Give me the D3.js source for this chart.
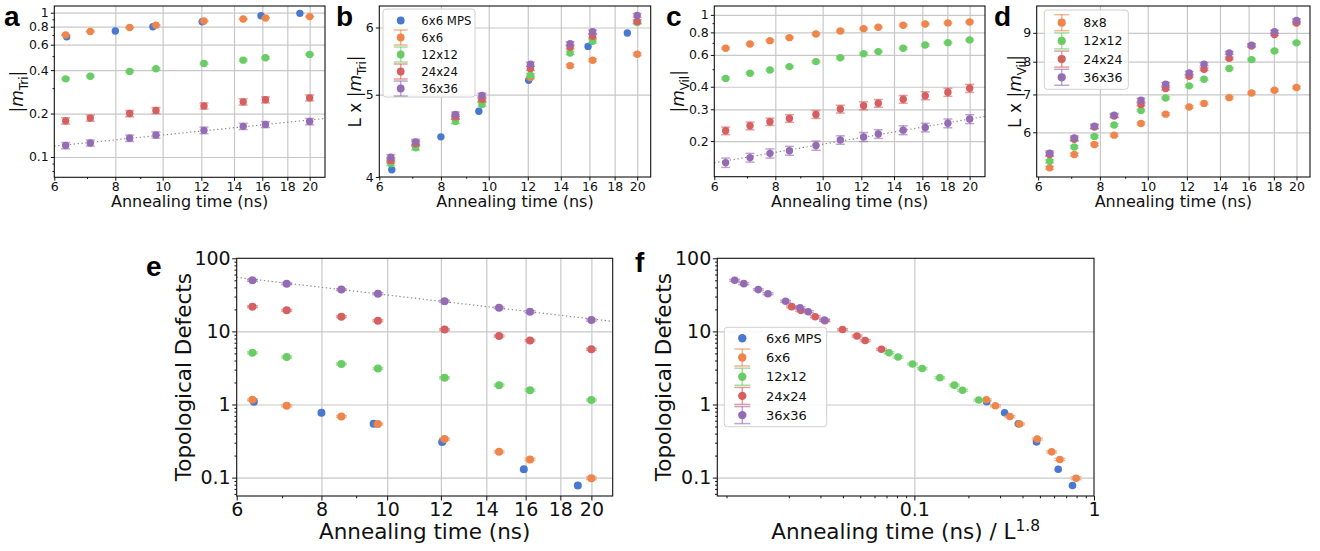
<!DOCTYPE html>
<html><head><meta charset="utf-8">
<script src="https://cdn.jsdelivr.net/npm/d3@7"></script>
<style>body{margin:0;background:#fff} svg{display:block}</style>
</head><body>
<svg id="chart" width="1320" height="551"></svg>
<script>
// ---------------- DATA ----------------
const seriesLabels = ["6x6 MPS", "6x6", "12x12", "24x24", "36x36"];
const seriesColors = ["#4878d0", "#ee854a", "#6acc64", "#d65f5f", "#956cb4"];
const latticeL = [6, 6, 12, 24, 36];
const vilLabels = ["8x8", "12x12", "24x24", "36x36"];
const vilColors = ["#ee854a", "#6acc64", "#d65f5f", "#956cb4"];
const scalingExponent = 1.8;

const timesMPS = [6.36, 8.0, 9.55, 12.05, 15.9, 19.1];
const timesTri = [6.33, 7.11, 8.56, 9.69, 12.15, 14.62, 16.24, 20];
const timesVil = [6.33, 7.1, 7.8, 8.55, 9.69, 10.87, 12.13, 13.0, 14.62, 16.22, 18.05, 20];

// panel a : |m_Tri|
const mTriMPS = [0.68, 0.746, 0.80, 0.866, 0.953, 0.99];
const mTri6  = [0.70, 0.74, 0.79, 0.82, 0.875, 0.905, 0.92, 0.94];
const mTri12 = [0.348, 0.363, 0.392, 0.409, 0.445, 0.469, 0.487, 0.514];
const mTri24 = [0.178, 0.186, 0.200, 0.210, 0.226, 0.241, 0.249, 0.257];
const mTri36 = [0.120, 0.125, 0.135, 0.142, 0.153, 0.163, 0.168, 0.176];
const mTri6Err  = [0.005, 0.005, 0.005, 0.005, 0.006, 0.006, 0.006, 0.006];
const mTri12Err = [0.005, 0.005, 0.006, 0.006, 0.006, 0.007, 0.007, 0.007];
const mTri24Err = [0.009, 0.009, 0.010, 0.010, 0.011, 0.012, 0.012, 0.012];
const mTri36Err = [0.006, 0.006, 0.007, 0.007, 0.008, 0.008, 0.008, 0.009];
const fitTri = [[6, 0.119], [21.5, 0.185]];

// panel b : L x |m_Tri|
const lmTriMPS = [4.08, 4.46, 4.78, 5.20, 5.70, 5.91];
const lmTri6  = [4.19, 4.38, 4.70, 4.92, 5.24, 5.41, 5.49, 5.58];
const lmTri12 = [4.15, 4.33, 4.65, 4.87, 5.27, 5.60, 5.78, 6.08];
const lmTri24 = [4.185, 4.38, 4.71, 4.94, 5.37, 5.69, 5.86, 6.10];
const lmTri36 = [4.22, 4.40, 4.74, 4.99, 5.43, 5.74, 5.93, 6.20];
const lmTri6Err  = [0.02, 0.02, 0.02, 0.02, 0.02, 0.02, 0.02, 0.02];
const lmTri12Err = [0.025, 0.025, 0.025, 0.025, 0.025, 0.025, 0.025, 0.025];
const lmTri24Err = [0.03, 0.03, 0.03, 0.03, 0.03, 0.03, 0.03, 0.03];
const lmTri36Err = [0.03, 0.03, 0.03, 0.03, 0.03, 0.03, 0.03, 0.03];

// panel c : |m_Vil|
const mVil8  = [0.653, 0.690, 0.720, 0.748, 0.784, 0.815, 0.839, 0.854, 0.877, 0.891, 0.903, 0.914];
const mVil12 = [0.445, 0.475, 0.495, 0.517, 0.551, 0.579, 0.610, 0.626, 0.653, 0.681, 0.702, 0.727];
const mVil24 = [0.228, 0.243, 0.256, 0.267, 0.281, 0.301, 0.314, 0.324, 0.341, 0.357, 0.373, 0.392];
const mVil36 = [0.152, 0.162, 0.171, 0.177, 0.189, 0.203, 0.211, 0.219, 0.230, 0.238, 0.251, 0.265];
const mVil8Err  = [0.008, 0.008, 0.008, 0.008, 0.009, 0.009, 0.009, 0.009, 0.010, 0.010, 0.010, 0.010];
const mVil12Err = [0.006, 0.006, 0.006, 0.006, 0.007, 0.007, 0.007, 0.007, 0.008, 0.008, 0.008, 0.008];
const mVil24Err = [0.011, 0.012, 0.012, 0.013, 0.014, 0.015, 0.016, 0.016, 0.017, 0.018, 0.019, 0.020];
const mVil36Err = [0.009, 0.009, 0.010, 0.010, 0.011, 0.011, 0.012, 0.012, 0.013, 0.013, 0.014, 0.015];
const fitVil = [[6, 0.1516], [21.5, 0.274]];

// panel d : L x |m_Vil|
const lmVil8  = [5.19, 5.48, 5.71, 5.93, 6.22, 6.46, 6.65, 6.75, 6.91, 7.04, 7.12, 7.20];
const lmVil12 = [5.33, 5.65, 5.90, 6.18, 6.56, 6.90, 7.25, 7.45, 7.78, 8.07, 8.36, 8.64];
const lmVil24 = [5.48, 5.83, 6.13, 6.41, 6.72, 7.17, 7.54, 7.76, 8.11, 8.53, 8.94, 9.37];
const lmVil36 = [5.51, 5.86, 6.15, 6.43, 6.84, 7.30, 7.64, 7.92, 8.29, 8.56, 9.04, 9.47];
const lmVil8Err  = [0.03, 0.03, 0.03, 0.03, 0.03, 0.03, 0.03, 0.03, 0.03, 0.03, 0.03, 0.03];
const lmVil12Err = [0.03, 0.03, 0.03, 0.03, 0.03, 0.03, 0.03, 0.03, 0.03, 0.03, 0.03, 0.03];
const lmVil24Err = [0.04, 0.04, 0.04, 0.04, 0.04, 0.04, 0.04, 0.04, 0.04, 0.04, 0.04, 0.04];
const lmVil36Err = [0.05, 0.05, 0.05, 0.05, 0.05, 0.05, 0.05, 0.05, 0.05, 0.05, 0.05, 0.05];

// panels e & f : topological defects
const defMPS = [1.09, 0.77, 0.544, 0.308, 0.130, 0.078];
const def6  = [1.16, 0.96, 0.685, 0.54, 0.336, 0.225, 0.177, 0.098];
const def12 = [5.1, 4.46, 3.58, 3.11, 2.32, 1.84, 1.57, 1.15];
const def24 = [21.8, 19.4, 15.9, 14.0, 10.6, 8.65, 7.5, 5.7];
const def36 = [50, 45, 37.3, 32.8, 25.8, 21.1, 18.6, 14.3];
const def6Err  = [0.035, 0.03, 0.02, 0.016, 0.01, 0.007, 0.006, 0.004];
const def12Err = [0.15, 0.13, 0.10, 0.09, 0.07, 0.055, 0.05, 0.035];
const def24Err = [0.6, 0.55, 0.45, 0.4, 0.3, 0.25, 0.22, 0.17];
const def36Err = [1.5, 1.4, 1.1, 1.0, 0.8, 0.6, 0.6, 0.45];
const fitDef = [[6, 54.9], [21.5, 13.7]];

// ticks
const xTicksTime = [6, 8, 10, 12, 14, 16, 18, 20];
const xMinorTime = [7, 9];
const yTicksA = [0.1, 0.2, 0.4, 0.6, 0.8, 1];
const yMinorA = [0.08, 0.09, 0.3, 0.5, 0.7, 0.9];
const yTicksB = [4, 5, 6];
const yTicksC = [0.2, 0.3, 0.4, 0.6, 0.8, 1];
const yMinorC = [0.5, 0.7, 0.9];
const yTicksD = [6, 7, 8, 9];
const yTicksE = [0.1, 1, 10, 100];
const yMinorE = [0.06, 0.07, 0.08, 0.09, 0.2, 0.3, 0.4, 0.5, 0.6, 0.7, 0.8, 0.9, 2, 3, 4, 5, 6, 7, 8, 9, 20, 30, 40, 50, 60, 70, 80, 90];
const xTicksF = [0.1, 1];
const xMinorF = [0.009, 0.02, 0.03, 0.04, 0.05, 0.06, 0.07, 0.08, 0.09, 0.2, 0.3, 0.4, 0.5, 0.6, 0.7, 0.8, 0.9];

// ---------------- DRAWING ----------------
const svg = d3.select("#chart");
const FONT = "DejaVu Sans, Verdana, sans-serif";
const GRID = "#c8c8c8";

function mk(xs, ys, errs, color) {
  return xs.map((t, i) => ({x: t, y: ys[i], e: errs ? errs[i] : 0, color, err: !!errs}));
}

function drawPanel(p) {
  const g = svg.append("g");
  const x = d3.scaleLog().domain(p.xDomain).range([p.left, p.right]);
  const y = d3.scaleLog().domain(p.yDomain).range([p.bottom, p.top]);
  const W = p.right - p.left, H = p.bottom - p.top;
  const inX = v => x(v) > p.left + 1.5 && x(v) < p.right - 1.5;
  const inY = v => y(v) > p.top + 1.5 && y(v) < p.bottom - 1.5;

  // grid
  g.append("g").attr("transform", `translate(0,${p.bottom})`)
    .call(d3.axisBottom(x).tickValues(p.xTicks.filter(inX)).tickSize(-H).tickFormat(""))
    .call(a => a.select(".domain").remove())
    .selectAll("line").attr("stroke", GRID).attr("stroke-width", 1.2);
  g.append("g").attr("transform", `translate(${p.left},0)`)
    .call(d3.axisLeft(y).tickValues(p.yTicks.filter(inY)).tickSize(-W).tickFormat(""))
    .call(a => a.select(".domain").remove())
    .selectAll("line").attr("stroke", GRID).attr("stroke-width", 1.2);

  // fit line
  if (p.fit) {
    g.append("path").datum(p.fit)
      .attr("d", d3.line().x(d => x(d[0])).y(d => y(d[1])))
      .attr("fill", "none").attr("stroke", "#8a8a8a").attr("stroke-width", 1.2)
      .attr("stroke-dasharray", "1.3,2.6");
  }

  const clip = "clip" + Math.round(p.left);
  svg.append("clipPath").attr("id", clip).append("rect")
    .attr("x", p.left).attr("y", p.top).attr("width", W).attr("height", H);
  const pts = g.append("g").attr("clip-path", `url(#${clip})`);

  p.series.forEach(s => {
    const sg = pts.append("g");
    const withErr = s.filter(d => d.err);
    sg.selectAll("line.v").data(withErr).join("line")
      .attr("x1", d => x(d.x)).attr("x2", d => x(d.x))
      .attr("y1", d => y(d.y - d.e)).attr("y2", d => y(d.y + d.e))
      .attr("stroke", d => d.color).attr("stroke-width", 1.5).attr("opacity", 0.6);
    ["lo", "hi"].forEach(k => {
      sg.selectAll("line." + k).data(withErr).join("line")
        .attr("x1", d => x(d.x) - p.cap).attr("x2", d => x(d.x) + p.cap)
        .attr("y1", d => y(k === "lo" ? d.y - d.e : d.y + d.e))
        .attr("y2", d => y(k === "lo" ? d.y - d.e : d.y + d.e))
        .attr("stroke", d => d.color).attr("stroke-width", 1.5).attr("opacity", 0.6);
    });
    sg.selectAll("circle").data(s).join("circle")
      .attr("cx", d => x(d.x)).attr("cy", d => y(d.y)).attr("r", p.r)
      .attr("fill", d => d.color);
  });

  // frame
  g.append("rect").attr("x", p.left).attr("y", p.top).attr("width", W).attr("height", H)
    .attr("fill", "none").attr("stroke", "#111").attr("stroke-width", 1.1);

  // axes ticks
  const fmt = d => String(d);
  const ax = g.append("g").attr("transform", `translate(0,${p.bottom})`)
    .call(d3.axisBottom(x).tickValues(p.xTicks).tickFormat(fmt).tickSize(p.tick).tickPadding(p.xPad));
  const axm = g.append("g").attr("transform", `translate(0,${p.bottom})`)
    .call(d3.axisBottom(x).tickValues(p.xMinor || []).tickFormat("").tickSize(p.tick / 2));
  const ay = g.append("g").attr("transform", `translate(${p.left},0)`)
    .call(d3.axisLeft(y).tickValues(p.yTicks).tickFormat(fmt).tickSize(p.tick).tickPadding(p.yPad));
  const aym = g.append("g").attr("transform", `translate(${p.left},0)`)
    .call(d3.axisLeft(y).tickValues(p.yMinor || []).tickFormat("").tickSize(p.tick / 2));
  [ax, axm, ay, aym].forEach(a => {
    a.select(".domain").remove();
    a.selectAll("line").attr("stroke", "#111").attr("stroke-width", 1);
    a.selectAll("text").attr("font-family", FONT).attr("font-size", p.tickFs).attr("fill", "#111");
  });

  // x label
  const xl = g.append("text").attr("x", (p.left + p.right) / 2).attr("y", p.xLabelY)
    .attr("text-anchor", "middle").attr("font-family", FONT).attr("font-size", p.labelFs).attr("fill", "#111");
  p.xLabel(xl);
  // y label
  const yfs = p.yLabelFs || p.labelFs;
  const yl = g.append("text")
    .attr("transform", `translate(${p.yLabelX + yfs * 0.36},${(p.top + p.bottom) / 2}) rotate(-90)`)
    .attr("text-anchor", "middle").attr("font-family", FONT).attr("font-size", yfs).attr("fill", "#111");
  p.yLabel(yl);

  // panel letter
  svg.append("text").attr("x", p.letterX).attr("y", p.letterY).text(p.letter)
    .attr("font-family", "Liberation Sans, Arial, sans-serif").attr("font-weight", "bold")
    .attr("font-size", 28).attr("fill", "#000");

  if (p.legend) drawLegend(p.legend);
}

function plainLabel(txt) { return t => t.text(txt); }
function mLabel(prefix, sub, fs) {
  return t => {
    t.append("tspan").text(prefix + "|");
    t.append("tspan").attr("font-style", "italic").text("m");
    t.append("tspan").attr("dy", fs * 0.28).attr("font-size", fs * 0.7).text(sub);
    t.append("tspan").attr("dy", -fs * 0.28).text("|");
  };
}

function drawLegend(L) {
  const g = svg.append("g");
  g.append("rect").attr("x", L.x0).attr("y", L.y0).attr("width", L.x1 - L.x0).attr("height", L.y1 - L.y0)
    .attr("rx", 3).attr("fill", "#fff").attr("fill-opacity", 0.85).attr("stroke", "#d0d0d0").attr("stroke-width", 1);
  L.items.forEach((it, i) => {
    const cy = L.firstY + i * L.step;
    if (it.err) {
      const h = L.barH;
      g.append("line").attr("x1", L.mx).attr("x2", L.mx).attr("y1", cy - h).attr("y2", cy + h)
        .attr("stroke", it.color).attr("stroke-width", 1.5).attr("opacity", 0.6);
      [-h, h].forEach(dy => g.append("line").attr("x1", L.mx - L.cap).attr("x2", L.mx + L.cap)
        .attr("y1", cy + dy).attr("y2", cy + dy)
        .attr("stroke", it.color).attr("stroke-width", 1.5).attr("opacity", 0.6));
    }
    g.append("circle").attr("cx", L.mx).attr("cy", cy).attr("r", L.r).attr("fill", it.color);
    g.append("text").attr("x", L.tx).attr("y", cy).attr("dy", "0.36em").text(it.label)
      .attr("font-family", FONT).attr("font-size", L.fs).attr("fill", "#111");
  });
}

const triItems = seriesLabels.map((l, i) => ({label: l, color: seriesColors[i], err: i > 0}));
const vilItems = vilLabels.map((l, i) => ({label: l, color: vilColors[i], err: true}));

const topCommon = {top: 6, tick: 3.5, xPad: 1.8, yPad: 2, tickFs: 12.5, labelFs: 16, yLabelFs: 17, xLabelY: 207,
  r: 3.7, cap: 4.5, xTicks: xTicksTime, xMinor: xMinorTime, letterY: 25.5,
  xLabel: plainLabel("Annealing time (ns)")};

// a
drawPanel(Object.assign({}, topCommon, {
  left: 54.3, right: 325, bottom: 177.3, xDomain: [6, 21.5], yDomain: [0.0723, 1.113],
  yTicks: yTicksA, yMinor: yMinorA, fit: fitTri, letter: "a", letterX: 4, yLabelX: 17,
  yLabel: mLabel("", "Tri", 17),
  series: [mk(timesMPS, mTriMPS, null, seriesColors[0]), mk(timesTri, mTri6, mTri6Err, seriesColors[1]),
           mk(timesTri, mTri12, mTri12Err, seriesColors[2]), mk(timesTri, mTri24, mTri24Err, seriesColors[3]),
           mk(timesTri, mTri36, mTri36Err, seriesColors[4])]
}));
// b
drawPanel(Object.assign({}, topCommon, {
  left: 379.3, right: 650.7, bottom: 177, xDomain: [6, 21.3], yDomain: [4, 6.36],
  yTicks: yTicksB, yMinor: [], letter: "b", letterX: 336, yLabelX: 355,
  yLabel: mLabel("L x ", "Tri", 17),
  series: [mk(timesMPS, lmTriMPS, null, seriesColors[0]), mk(timesTri, lmTri6, lmTri6Err, seriesColors[1]),
           mk(timesTri, lmTri12, lmTri12Err, seriesColors[2]), mk(timesTri, lmTri24, lmTri24Err, seriesColors[3]),
           mk(timesTri, lmTri36, lmTri36Err, seriesColors[4])],
  legend: {x0: 383, y0: 9, x1: 475, y1: 97, firstY: 20.5, step: 17, mx: 400.7, tx: 421.3, fs: 11.7,
           r: 3.9, cap: 7, barH: 7.5, items: triItems}
}));
// c
drawPanel(Object.assign({}, topCommon, {
  left: 714.3, right: 985, bottom: 176.7, xDomain: [6, 21.5], yDomain: [0.127, 1.12],
  yTicks: yTicksC, yMinor: yMinorC, fit: fitVil, letter: "c", letterX: 666, yLabelX: 678,
  yLabel: mLabel("", "Vil", 17),
  series: [mk(timesVil, mVil8, mVil8Err, vilColors[0]), mk(timesVil, mVil12, mVil12Err, vilColors[1]),
           mk(timesVil, mVil24, mVil24Err, vilColors[2]), mk(timesVil, mVil36, mVil36Err, vilColors[3])]
}));
// d
drawPanel(Object.assign({}, topCommon, {
  left: 1036.7, right: 1310, bottom: 177, xDomain: [5.96, 21.3], yDomain: [5.0, 10.04],
  yTicks: yTicksD, yMinor: [], letter: "d", letterX: 994, yLabelX: 1015,
  yLabel: mLabel("L x ", "Vil", 17),
  series: [mk(timesVil, lmVil8, lmVil8Err, vilColors[0]), mk(timesVil, lmVil12, lmVil12Err, vilColors[1]),
           mk(timesVil, lmVil24, lmVil24Err, vilColors[2]), mk(timesVil, lmVil36, lmVil36Err, vilColors[3])],
  legend: {x0: 1044.3, y0: 10, x1: 1128.3, y1: 89.3, firstY: 22.7, step: 18.2, mx: 1061.7, tx: 1083.3, fs: 12.5,
           r: 4.1, cap: 7.5, barH: 8, items: vilItems}
}));

const botCommon = {top: 258.3, bottom: 496, tick: 4.5, xPad: 2, yPad: 1.5, tickFs: 19, labelFs: 21.5,
  xLabelY: 539, r: 4, cap: 5.5, letterY: 276, yTicks: yTicksE, yMinor: yMinorE, yDomain: [0.056, 100],
  yLabel: plainLabel("Topological Defects")};

// e
drawPanel(Object.assign({}, botCommon, {
  left: 236.7, right: 612.7, xDomain: [6, 21.5], xTicks: xTicksTime, xMinor: xMinorTime,
  fit: fitDef, letter: "e", letterX: 146, yLabelX: 183,
  xLabel: plainLabel("Annealing time (ns)"),
  series: [mk(timesMPS, defMPS, null, seriesColors[0]), mk(timesTri, def6, def6Err, seriesColors[1]),
           mk(timesTri, def12, def12Err, seriesColors[2]), mk(timesTri, def24, def24Err, seriesColors[3]),
           mk(timesTri, def36, def36Err, seriesColors[4])]
}));
// f
const scaled = (ts, L) => ts.map(t => t / Math.pow(L, scalingExponent));
drawPanel(Object.assign({}, botCommon, {
  left: 717.3, right: 1094, xDomain: [0.008, 1], xTicks: xTicksF, xMinor: xMinorF,
  letter: "f", letterX: 635, letterY: 272, yLabelX: 663, r: 3.8,
  xLabel: t => {
    t.append("tspan").text("Annealing time (ns) / L");
    t.append("tspan").attr("dy", -8).attr("font-size", 21.5 * 0.72).text("1.8");
  },
  series: [mk(scaled(timesMPS, latticeL[0]), defMPS, null, seriesColors[0]),
           mk(scaled(timesTri, latticeL[1]), def6, def6Err, seriesColors[1]),
           mk(scaled(timesTri, latticeL[2]), def12, def12Err, seriesColors[2]),
           mk(scaled(timesTri, latticeL[3]), def24, def24Err, seriesColors[3]),
           mk(scaled(timesTri, latticeL[4]), def36, def36Err, seriesColors[4])],
  legend: {x0: 724.3, y0: 327.3, x1: 826.7, y1: 426.7, firstY: 338.3, step: 19.2, mx: 742.3, tx: 766, fs: 13,
           r: 4.2, cap: 8, barH: 8.5, items: triItems}
}));
</script>
</body></html>
